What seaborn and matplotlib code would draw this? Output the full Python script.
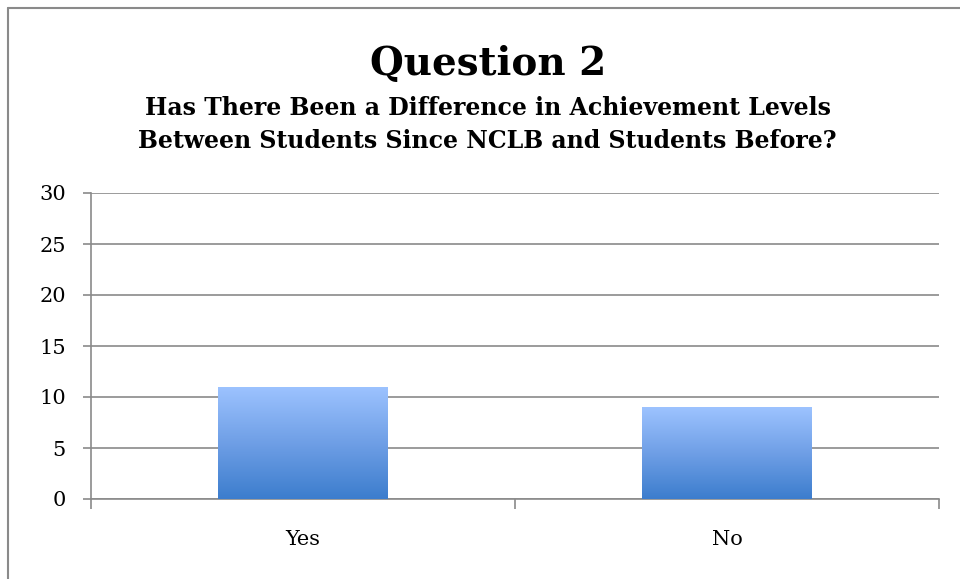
#!/usr/bin/env python3

import matplotlib
matplotlib.use("Agg")
import matplotlib.pyplot as plt
import matplotlib.colors as mcolors
import numpy as np
import pandas as pd
import seaborn as sns


# chart data
answers = ["Yes", "No"]
counts = [11, 9]
y_ticks = [0, 5, 10, 15, 20, 25, 30]

title = "Question 2"
subtitle_lines = [
	"Has There Been a Difference in Achievement Levels",
	"Between Students Since NCLB and Students Before?",
]


if __name__ == "__main__":
	sns.set_style("white")
	plt.rcParams["font.family"] = ["DejaVu Serif"]
	plt.rcParams["text.color"] = "black"
	plt.rcParams["xtick.labelcolor"] = "black"
	plt.rcParams["ytick.labelcolor"] = "black"

	data = pd.DataFrame({"answer": answers, "count": counts})

	fig = plt.figure(figsize=(9.6, 5.79), dpi=100)
	ax = fig.add_axes([91 / 960, 80 / 579, 848 / 960, 306 / 579])

	sns.barplot(x="answer", y="count", data=data, ax=ax, width=0.4, color="#6a9be6", zorder=3)

	# paint each bar with a vertical blue gradient clipped to the bar
	cmap = mcolors.LinearSegmentedColormap.from_list("bar", ["#3c7dcd", "#6f9fe6", "#9dc3ff"])
	grad = np.linspace(0, 1, 256).reshape(-1, 1)
	for patch in ax.patches:
		x0, y0 = patch.get_x(), patch.get_y()
		w, h = patch.get_width(), patch.get_height()
		patch.set_facecolor("none")
		patch.set_edgecolor("none")
		img = ax.imshow(grad, cmap=cmap, origin="lower", aspect="auto",
			extent=(x0, x0 + w, y0, y0 + h), zorder=4)
		img.set_clip_path(patch)

	ax.set_xlim(-0.5, 1.5)
	ax.set_ylim(0, 30)
	ax.set_yticks(y_ticks)
	ax.set_xlabel("")
	ax.set_ylabel("")

	# horizontal gridlines
	ax.yaxis.grid(True, color="#8a8a8a", linewidth=1.2, zorder=1)
	ax.set_axisbelow(True)

	for side in ["top", "right"]:
		ax.spines[side].set_visible(False)
	for side in ["left", "bottom"]:
		ax.spines[side].set_color("#8a8a8a")
		ax.spines[side].set_linewidth(1.2)

	# ticks: y outward, x at category boundaries
	ax.tick_params(axis="y", direction="out", length=6, width=1.2, color="#8a8a8a",
		labelsize=15, pad=12, left=True)
	ax.set_xticks([-0.5, 0.5, 1.5], minor=True)
	ax.tick_params(axis="x", which="minor", direction="out", length=7, width=1.2,
		color="#8a8a8a", bottom=True)
	ax.tick_params(axis="x", which="major", length=0, labelsize=15, pad=22)

	# titles
	fig.text(0.508, 1 - 75 / 579, title, ha="center", va="baseline",
		fontsize=28, fontweight="bold")
	for i, line in enumerate(subtitle_lines):
		fig.text(0.508, 1 - (115 + 33 * i) / 579, line, ha="center", va="baseline",
			fontsize=17, fontweight="bold")

	# chart frame (only top and left edges visible)
	fig.add_artist(plt.Line2D([8 / 960, 1], [1 - 8 / 579, 1 - 8 / 579],
		transform=fig.transFigure, color="#8a8a8a", linewidth=1.5))
	fig.add_artist(plt.Line2D([8 / 960, 8 / 960], [0, 1 - 8 / 579],
		transform=fig.transFigure, color="#8a8a8a", linewidth=1.5))

	fig.savefig("out.png", dpi=100)
	plt.close(fig)
